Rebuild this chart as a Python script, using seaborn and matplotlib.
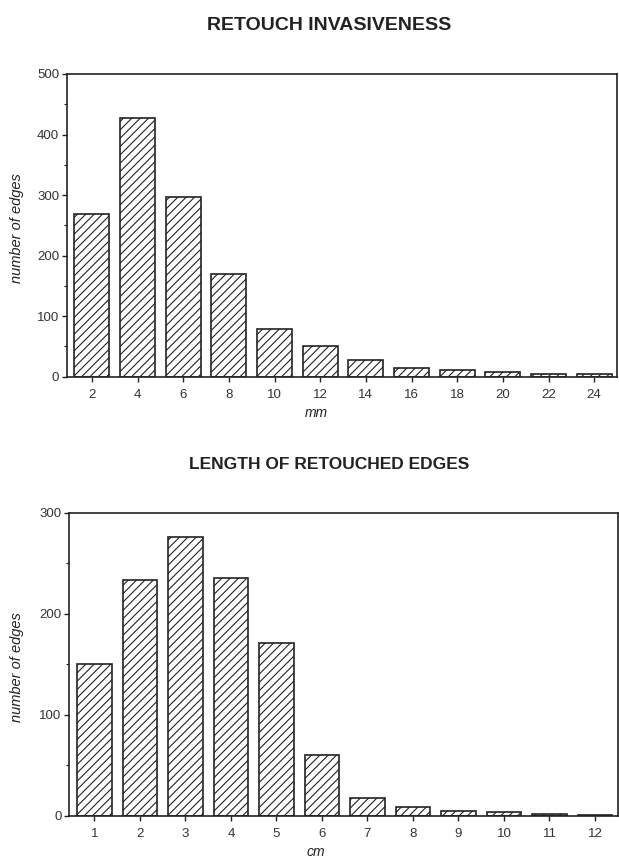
import matplotlib
matplotlib.use("Agg")
import matplotlib.pyplot as plt
import seaborn as sns
import pandas as pd
from matplotlib.ticker import MultipleLocator

sns.set_theme(style="ticks")
plt.rcParams['font.family'] = ['Liberation Sans', 'DejaVu Sans']
plt.rcParams['hatch.linewidth'] = 0.8

# ---- data ----
title_top = "RETOUCH INVASIVENESS"
mm_categories = ["2", "4", "6", "8", "10", "12", "14", "16", "18", "20", "22", "24"]
mm_counts = [268, 428, 297, 170, 79, 51, 28, 15, 11, 7, 4, 4]

title_bottom = "LENGTH OF RETOUCHED EDGES"
cm_categories = ["1", "2", "3", "4", "5", "6", "7", "8", "9", "10", "11", "12"]
cm_counts = [150, 234, 276, 236, 171, 60, 18, 9, 5, 4, 2, 1]

ylabel = "number of edges"

fig = plt.figure(figsize=(6.19, 8.64), dpi=100)
ax1 = fig.add_axes([0.1078, 0.564, 0.889, 0.3504])
ax2 = fig.add_axes([0.112, 0.0556, 0.886, 0.3507])

def draw(ax, cats, vals, ymax, major, minor):
    df = pd.DataFrame({"cat": cats, "val": vals})
    sns.barplot(data=df, x="cat", y="val", ax=ax, color="white",
                edgecolor="black", linewidth=1.2, width=0.76, saturation=1)
    for p in ax.patches:
        p.set_hatch("////")
        p.set_facecolor("white")
        p.set_edgecolor("#222222")
    ax.set_xlim(-0.55, 11.5)
    ax.set_ylim(0, ymax)
    ax.yaxis.set_major_locator(MultipleLocator(major))
    ax.yaxis.set_minor_locator(MultipleLocator(minor))
    for s in ax.spines.values():
        s.set_visible(True)
        s.set_linewidth(1.2)
        s.set_color("#222222")
    ax.tick_params(axis="both", which="major", direction="out", length=3.5,
                   width=1.0, color="#222222", labelsize=9.5, labelcolor="#333333")
    ax.tick_params(axis="y", which="major", pad=2)
    ax.tick_params(axis="x", which="major", pad=5)
    ax.tick_params(axis="y", which="minor", direction="out", length=2, width=0.8,
                   color="#222222")
    ax.set_xlabel("")
    ax.set_ylabel("")
    ax.grid(False)

draw(ax1, mm_categories, mm_counts, 500, 100, 50)
draw(ax2, cm_categories, cm_counts, 300, 100, 50)

fig.text(17 / 619, 1 - 228 / 864, ylabel, rotation=90, ha="center", va="center",
         fontsize=10.5, fontstyle="italic", color="#222222")
fig.text(17 / 619, 1 - 667 / 864, ylabel, rotation=90, ha="center", va="center",
         fontsize=10.5, fontstyle="italic", color="#222222")

fig.text(329 / 619, 1 - 25 / 864, title_top, ha="center", va="center",
         fontsize=14, fontweight="bold", color="#222222")
fig.text(329 / 619, 1 - 464 / 864, title_bottom, ha="center", va="center",
         fontsize=12.5, fontweight="bold", color="#222222")
fig.text(316 / 619, 1 - 413 / 864, "mm", ha="center", va="center",
         fontsize=10, fontstyle="italic", color="#222222")
fig.text(316 / 619, 1 - 852 / 864, "cm", ha="center", va="center",
         fontsize=10, fontstyle="italic", color="#222222")

fig.savefig("out.png", dpi=100, facecolor="white")
